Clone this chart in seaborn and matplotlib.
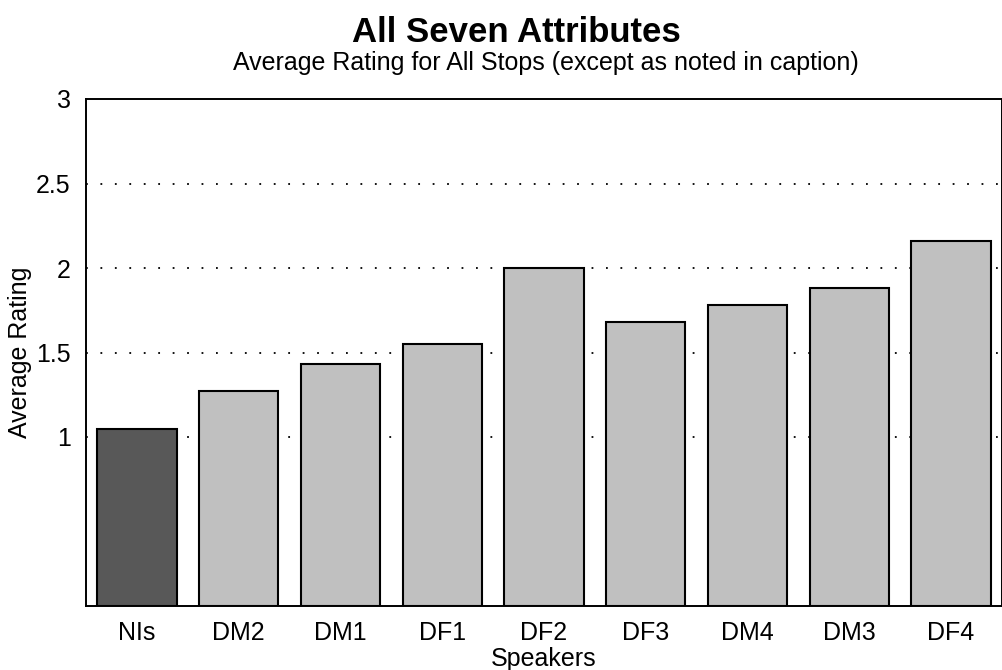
import matplotlib
matplotlib.use("Agg")
import matplotlib.pyplot as plt
import seaborn as sns
import pandas as pd

# speakers and their average rating
speakers = ["NIs", "DM2", "DM1", "DF1", "DF2", "DF3", "DM4", "DM3", "DF4"]
ratings = [1.05, 1.27, 1.43, 1.55, 2.0, 1.68, 1.78, 1.88, 2.16]
bar_colors = ["#585858"] + ["#c0c0c0"] * 8
y_ticks = [1, 1.5, 2, 2.5, 3]

df = pd.DataFrame({"Speakers": speakers, "Average Rating": ratings})

sns.set_style("white")
plt.rcParams["font.family"] = ["Liberation Sans", "DejaVu Sans"]
plt.rcParams["text.color"] = "black"
plt.rcParams["axes.labelcolor"] = "black"
plt.rcParams["xtick.color"] = "black"
plt.rcParams["ytick.color"] = "black"

W, H = 1002, 670
fig = plt.figure(figsize=(W / 100, H / 100), dpi=100)
left, right, top, bottom = 86, 1002, 99, 606
ax = fig.add_axes([left / W, 1 - bottom / H, (right - left) / W, (bottom - top) / H])

sns.barplot(data=df, x="Speakers", y="Average Rating", hue="Speakers",
            palette=bar_colors, legend=False, width=0.78,
            edgecolor="black", linewidth=1.5, saturation=1, ax=ax, zorder=2)

ax.set_ylim(0, 3)
ax.set_xlim(-0.5, len(speakers) - 0.5)
ax.set_yticks(y_ticks)
ax.set_yticklabels([f"{t:g}" for t in y_ticks])
for t in y_ticks[:-1]:
    ax.axhline(t, color="black", linestyle=(0, (1, 7)), linewidth=1.3, zorder=1)

ax.tick_params(axis="both", length=0, labelsize=18)
ax.tick_params(axis="y", pad=11)
ax.tick_params(axis="x", pad=11)
ax.set_xlabel("Speakers", fontsize=18, labelpad=1)
ax.set_ylabel("Average Rating", fontsize=18, labelpad=3)
for s in ax.spines.values():
    s.set_color("black")
    s.set_linewidth(1.4)

fig.text(0.515, 1 - 33 / H, "All Seven Attributes", ha="center", va="center",
         fontsize=25, fontweight="bold")
fig.text(0.545, 1 - 63 / H, "Average Rating for All Stops (except as noted in caption)",
         ha="center", va="center", fontsize=18)

fig.savefig("out.png", dpi=100)
